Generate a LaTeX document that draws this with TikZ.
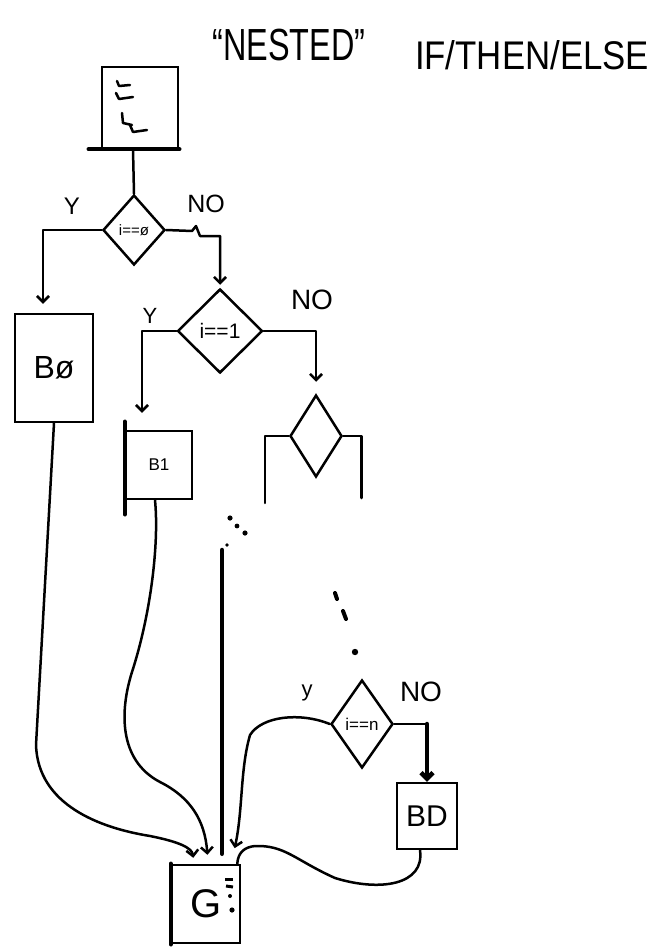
\documentclass[tikz,border=0pt]{standalone}
\usepackage{fontspec}
\setmainfont{Liberation Sans}
\usetikzlibrary{shapes.geometric,arrows.meta}
\begin{document}
\begin{tikzpicture}[x=1pt,y=-1pt,
 ln/.style={line width=2.5pt, line cap=round, line join=round},
 heavy/.style={line width=4.5pt, line cap=round},
 box/.style={draw, line width=2.5pt, rectangle, inner sep=0pt},
 dia/.style={draw, line width=2.5pt, diamond, inner sep=0pt},
 arr/.style={-{Straight Barb[length=6pt,width=12pt]}},
 fs/.style={font=\fontsize{#1}{#1}\selectfont},
]
\useasboundingbox[fill=white] (0,0) rectangle (658,952);

% title
\node[inner sep=0pt] (title) at (289,45) {\scalebox{0.72}[1]{\fontsize{45}{45}\selectfont “NESTED”}};
\node[inner sep=0pt] (subtitle) at (532,55) {\scalebox{0.87}[1]{\fontsize{40}{40}\selectfont IF/THEN/ELSE}};

% top box
\node[box, minimum width=76pt, minimum height=81pt] (top) at (140,107.5) {};
\draw[heavy] ([xshift=-12pt]top.south west) -- (top.south east);
\draw[ln] (117,81) -- (119,86) -- (130,85);
\draw[ln] (116,93) -- (119,99) -- (133,97);
\draw[ln] (122,113) -- (123,123) -- (132,125);
\draw[ln] (130,125) -- (133,132) -- (147,130);

% first decision
\node[dia, minimum width=62pt, minimum height=70pt, fs=15] (d1) at (134,230) {i==ø};
\draw[ln] ([xshift=-7pt]top.south) -- (d1.north);
\node[fs=24, inner sep=0pt] (y1) at (72,206) {Y};
\node[fs=25, inner sep=0pt] (no1) at (206,204) {NO};

% B0
\node[box, minimum width=78pt, minimum height=108pt, fs=32] (b0) at (54,368) {Bø};
\draw[ln, arr, shorten >=9pt] (d1.west) -| ([xshift=-11pt]b0.north);

% second decision
\node[dia, minimum width=85pt, minimum height=84pt, fs=21] (d2) at (220,331) {i==1};
\draw[ln, arr, shorten >=3pt] (d1.east) -- (192,231) -- (196,226) -- (200,236) -| (d2.north);
\node[fs=22, inner sep=0pt] (y2) at (150,316) {Y};
\node[fs=28, inner sep=0pt] (no2) at (312,300) {NO};

% B1
\node[box, minimum width=66pt, minimum height=68pt, fs=17] (b1) at (159,465) {B1};
\draw[heavy] ([yshift=8pt]b1.north west) -- ([yshift=-14pt]b1.south west);
\draw[ln, arr, shorten >=17pt] (d2.west) -| ([xshift=-17pt]b1.north);

% third (partial) decision
\node[dia, minimum width=52pt, minimum height=82pt] (d3) at (316,436) {};
\draw[ln, arr, shorten >=12pt] (d2.east) -| (d3.north);
\draw[ln] (d3.west) -- ++(-24,0) -- ++(0,67);
\draw[ln] (d3.east) -- ++(18,0) -- ++(0,62);

% ellipsis dots
\fill (230,518) circle[radius=2.6pt];
\fill (237,526) circle[radius=2.4pt];
\fill (245,533) circle[radius=2.6pt];
\fill (227,545) circle[radius=1.8pt];
\draw[line width=4pt, line cap=round] (335,593) -- (337,599);
\draw[line width=4pt, line cap=round] (343,611) -- (346,619);
\fill (355,652) circle[radius=3.2pt];

% last decision
\node[dia, minimum width=62pt, minimum height=88pt, fs=17] (dn) at (362,724) {i==n};
\node[fs=22, inner sep=0pt] (yn) at (307,693) {y};
\node[fs=28, inner sep=0pt] (non) at (421,692) {NO};

% BD
\node[box, minimum width=60pt, minimum height=66pt, fs=30] (bd) at (427,816) {BD};
\draw[ln] (dn.east) -- (dn.east -| bd.north);
\draw[heavy, arr] (dn.east -| bd.north) -- (bd.north);

% G
\node[box, minimum width=68pt, minimum height=78pt, fs=40] (g) at (206,904) {G};
\draw[heavy] (g.north west) -- (g.south west);
\draw[line width=3pt] (225,879) -- (233,879);
\draw[line width=3pt] (226,886) -- (233,887);
\fill (230,896) circle[radius=2pt];
\fill (232,910) circle[radius=2.6pt];

% connectors to G
\draw[ln, arr, shorten >=6pt] (b0.south) -- (36,745) .. controls (38,805) and (100,828) .. (150,836) .. controls (180,842) and (192,848) .. ([xshift=-12pt]g.north);
\draw[ln, arr, shorten >=9pt] ([xshift=-4pt]b1.south) .. controls (159,540) and (152,610) .. (132,672) .. controls (120,710) and (118,760) .. (160,782) .. controls (190,797) and (205,820) .. ([xshift=2pt]g.north);
\coordinate (gap) at (222,550);
\draw[heavy, shorten >=10pt] (gap) -- (gap |- g.north);
\draw[ln, arr, shorten >=16pt] (dn.west) .. controls (300,712) and (262,716) .. (250,735) .. controls (240,770) and (243,810) .. ([xshift=-10pt]g.north east);
\draw[ln] ([xshift=-7pt]bd.south) .. controls (425,885) and (380,892) .. (335,878) .. controls (295,860) and (285,845) .. (255,846) .. controls (245,847) and (238,852) .. ([xshift=-4pt]g.north east);
\end{tikzpicture}
\end{document}
